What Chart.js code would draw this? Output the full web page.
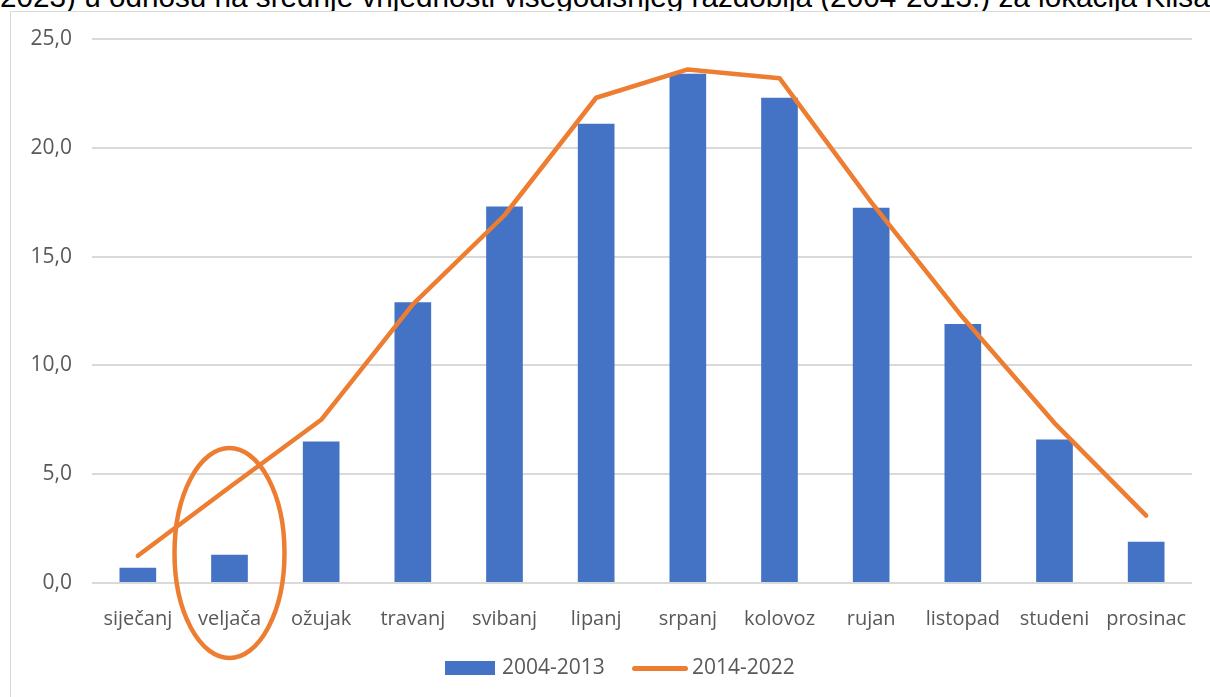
<!DOCTYPE html>
<html>
<head>
<meta charset="utf-8">
<script src="https://cdn.jsdelivr.net/npm/chart.js@4.4.1/dist/chart.umd.min.js"></script>
<style>
    html, body { margin: 0; padding: 0; background: #fff; overflow: hidden; }
    body { width: 1210px; height: 697px; position: relative; }
    .title { position: absolute; left: 0; top: -15px; white-space: nowrap; line-height: 1;
        font-family: "Liberation Sans", Arial, sans-serif; font-size: 24px; color: #000; }
    .frame { position: absolute; left: 10px; top: 11px; width: 1220px; height: 720px;
        border: 1.5px solid #d9d9d9; box-sizing: border-box; background: #fff; }
    #chart { position: absolute; left: 0; top: 0; }
    .legend { position: absolute; top: 652px; font-family: "Open Sans", sans-serif;
        font-size: 21px; color: #595959; }
    .legend span { position: absolute; white-space: nowrap; }
    .swatch-bar { position: absolute; background: #4472C4; }
    .swatch-line { position: absolute; background: #ED7D31; border-radius: 3px; }
</style>
</head>
<body>
<div class="title" id="title">2023) u odnosu na srednje vrijednosti višegodišnjeg razdoblja (2004-2013.) za lokacija Klisa</div>
<div class="frame"></div>
<canvas id="chart" width="1210" height="697"></canvas>
<div class="swatch-bar" style="left:445px; top:661px; width:50px; height:14px;"></div>
<div class="legend"><span style="left:502px; top:0;">2004-2013</span></div>
<div class="swatch-line" style="left:632px; top:666px; width:56px; height:5px;"></div>
<div class="legend"><span style="left:692px; top:0;">2014-2022</span></div>

<script>
// ========== Data ==========

const months = ['siječanj', 'veljača', 'ožujak', 'travanj', 'svibanj', 'lipanj',
    'srpanj', 'kolovoz', 'rujan', 'listopad', 'studeni', 'prosinac'];
const period1Label = '2004-2013';
const period2Label = '2014-2022';
const period1 = [0.7, 1.3, 6.5, 12.9, 17.3, 21.1, 23.4, 22.3, 17.25, 11.9, 6.6, 1.9];
const period2 = [1.25, 4.4, 7.5, 12.8, 16.9, 22.3, 23.6, 23.2, 17.5, 12.2, 7.35, 3.1];
const yTicks = [0, 5, 10, 15, 20, 25];

// fit the cut-off title to the page width, baseline just above the frame
const title = document.getElementById('title');
const titleSize = 24 * 1210 / title.scrollWidth;
title.style.fontSize = titleSize + 'px';
title.style.top = (7 - 0.83 * titleSize) + 'px';

// ========== Highlight ellipse ==========

const ellipsePlugin = {
    id: 'ellipse',
    afterDraw(chart) {
        const { ctx, scales } = chart;
        const cx = scales.x.getPixelForValue(1);
        const cy = scales.y.getPixelForValue(0) - 30;
        ctx.save();
        ctx.strokeStyle = '#ED7D31';
        ctx.lineWidth = 4.5;
        ctx.beginPath();
        ctx.ellipse(cx, cy, 55, 105, 0, 0, Math.PI * 2);
        ctx.stroke();
        ctx.restore();
    }
};

// ========== Chart ==========

new Chart(document.getElementById('chart').getContext('2d'), {
    type: 'bar',
    data: {
        labels: months,
        datasets: [
            {
                type: 'line',
                label: period2Label,
                data: period2,
                borderColor: '#ED7D31',
                backgroundColor: '#ED7D31',
                borderWidth: 4.5,
                borderCapStyle: 'round',
                borderJoinStyle: 'round',
                pointRadius: 0,
                tension: 0,
                order: 0
            },
            {
                label: period1Label,
                data: period1,
                backgroundColor: '#4472C4',
                barPercentage: 0.4,
                categoryPercentage: 1,
                order: 1
            }
        ]
    },
    options: {
        responsive: false,
        animation: false,
        layout: { padding: { left: 0, right: 18, top: 39, bottom: 0 } },
        plugins: { legend: { display: false }, tooltip: { enabled: false } },
        scales: {
            x: {
                grid: { display: false },
                border: { display: false },
                ticks: {
                    color: '#595959',
                    font: { family: 'Open Sans', size: 20 },
                    padding: 16,
                    maxRotation: 0,
                    autoSkip: false
                },
                afterFit(scale) { scale.height = 114; }
            },
            y: {
                min: 0,
                max: 25,
                afterBuildTicks(scale) { scale.ticks = yTicks.map(v => ({ value: v })); },
                grid: { color: '#d9d9d9', lineWidth: 2, drawTicks: false },
                border: { display: false },
                ticks: {
                    color: '#595959',
                    font: { family: 'Open Sans', size: 21 },
                    padding: 20,
                    callback: v => v.toFixed(1).replace('.', ',')
                },
                afterFit(scale) { scale.width = 92; }
            }
        }
    },
    plugins: [ellipsePlugin]
});
</script>
</body>
</html>
